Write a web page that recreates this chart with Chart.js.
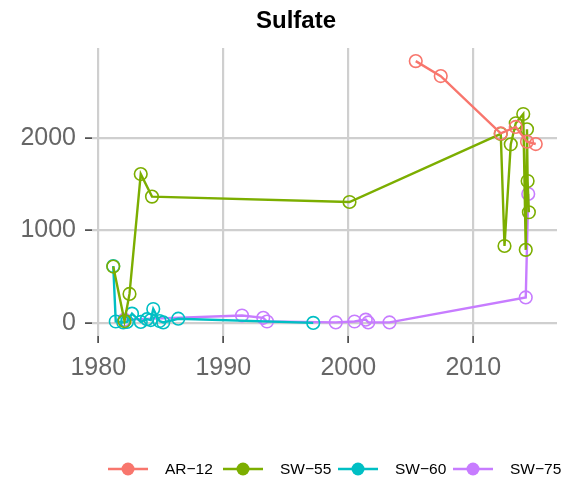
<!DOCTYPE html>
<html>
<head>
<meta charset="utf-8">
<script src="https://cdn.jsdelivr.net/npm/chart.js@4/dist/chart.umd.min.js"></script>
<style>
body{margin:0;background:#fff;}
</style>
</head>
<body>
<canvas id="sulfateChart" width="571" height="480"></canvas>
<script>

// sampling dates (decimal years) and sulfate values per site
let ar12Years=[2005.4,2007.4,2012.2,2013.4,2014.3,2015.0];
let ar12Values=[2832,2670,2050,2120,1960,1935];

let sw55Years=[1981.2,1982.1,1982.5,1983.4,1984.3,2000.1,2012.2,2012.5,2013.0,2013.4,2014.0,2014.2,2014.3,2014.35,2014.45];
let sw55Values=[609,20,313,1610,1366,1308,2045,832,1932,2160,2260,790,2094,1535,1197];

let sw60Years=[1981.2,1981.4,1982.0,1982.3,1982.7,1983.4,1983.9,1984.2,1984.4,1984.9,1985.2,1986.4,1997.2];
let sw60Values=[615,15,5,10,100,10,40,30,150,20,5,45,0];

let sw75Years=[1982.1,1991.5,1993.2,1993.5,1999.0,2000.5,2001.4,2001.6,2003.3,2014.2,2014.4];
let sw75Values=[35,80,55,15,5,15,35,5,5,275,1395];

let siteNames=["AR\u221212","SW\u221255","SW\u221260","SW\u221275"];
let siteColors=["#F8766D","#7CAE00","#00BFC4","#C77CFF"];

let xTicks=[1980,1990,2000,2010];
let yTicks=[0,1000,2000];

function toPoints(xs,ys){
return xs.map((x,i)=>({x:x,y:ys[i]}));
}

let seriesData=[
toPoints(ar12Years,ar12Values),
toPoints(sw55Years,sw55Values),
toPoints(sw60Years,sw60Values),
toPoints(sw75Years,sw75Values)
];

let datasets=seriesData.map((pts,i)=>({
label:siteNames[i],
data:pts,
borderColor:siteColors[i],
backgroundColor:siteColors[i],
borderWidth:2.4,
pointRadius:6.3,
pointBorderWidth:1.6,
pointBackgroundColor:"rgba(0,0,0,0)",
pointBorderColor:siteColors[i],
tension:0
}));

// title and bottom legend drawn by hand, ggplot style
const decorations={
id:"decorations",
afterDraw(chart){
let ctx=chart.ctx;
ctx.save();
ctx.fillStyle="#000";
ctx.font="bold 24px 'Liberation Sans', Arial, sans-serif";
ctx.textAlign="center";
ctx.textBaseline="alphabetic";
ctx.fillText("Sulfate",296,28);

let keyLeft=[108,223,338,453];
let y=469;
ctx.font="15.5px 'Liberation Sans', Arial, sans-serif";
ctx.textAlign="left";
ctx.textBaseline="middle";
siteNames.forEach((name,i)=>{
let x0=keyLeft[i];
ctx.strokeStyle=siteColors[i];
ctx.lineWidth=2.4;
ctx.beginPath();
ctx.moveTo(x0,y);
ctx.lineTo(x0+40,y);
ctx.stroke();
ctx.fillStyle=siteColors[i];
ctx.beginPath();
ctx.arc(x0+20,y,6.5,0,Math.PI*2);
ctx.fill();
ctx.fillStyle="#000";
ctx.fillText(name,x0+57,y+1);
});
ctx.restore();
}
};

let tickFont={family:"'Liberation Sans', Arial, sans-serif",size:25};

new Chart(document.getElementById("sulfateChart"),{
type:"line",
data:{datasets:datasets},
options:{
responsive:false,
animation:false,
devicePixelRatio:1,
layout:{padding:{top:48,right:14,bottom:100,left:0}},
plugins:{legend:{display:false},title:{display:false},tooltip:{enabled:false}},
scales:{
x:{
type:"linear",
min:1979.5,
max:2016.7,
afterBuildTicks:(scale)=>{scale.ticks=xTicks.map(v=>({value:v}));},
afterFit:(scale)=>{scale.height=44;},
border:{display:false},
grid:{color:"#cfcfcf",lineWidth:2.2,drawTicks:true,tickLength:7,tickColor:"#333",tickWidth:1.5},
ticks:{font:tickFont,color:"#666",padding:10,maxRotation:0,callback:v=>String(v)}
},
y:{
type:"linear",
min:-142,
max:2974,
afterBuildTicks:(scale)=>{scale.ticks=yTicks.map(v=>({value:v}));},
afterFit:(scale)=>{scale.width=92;},
border:{display:false},
grid:{color:"#cfcfcf",lineWidth:2.2,drawTicks:true,tickLength:7,tickColor:"#333",tickWidth:1.5},
ticks:{font:tickFont,color:"#666",padding:9,callback:v=>String(v)}
}
}
},
plugins:[decorations]
});

</script>
</body>
</html>
